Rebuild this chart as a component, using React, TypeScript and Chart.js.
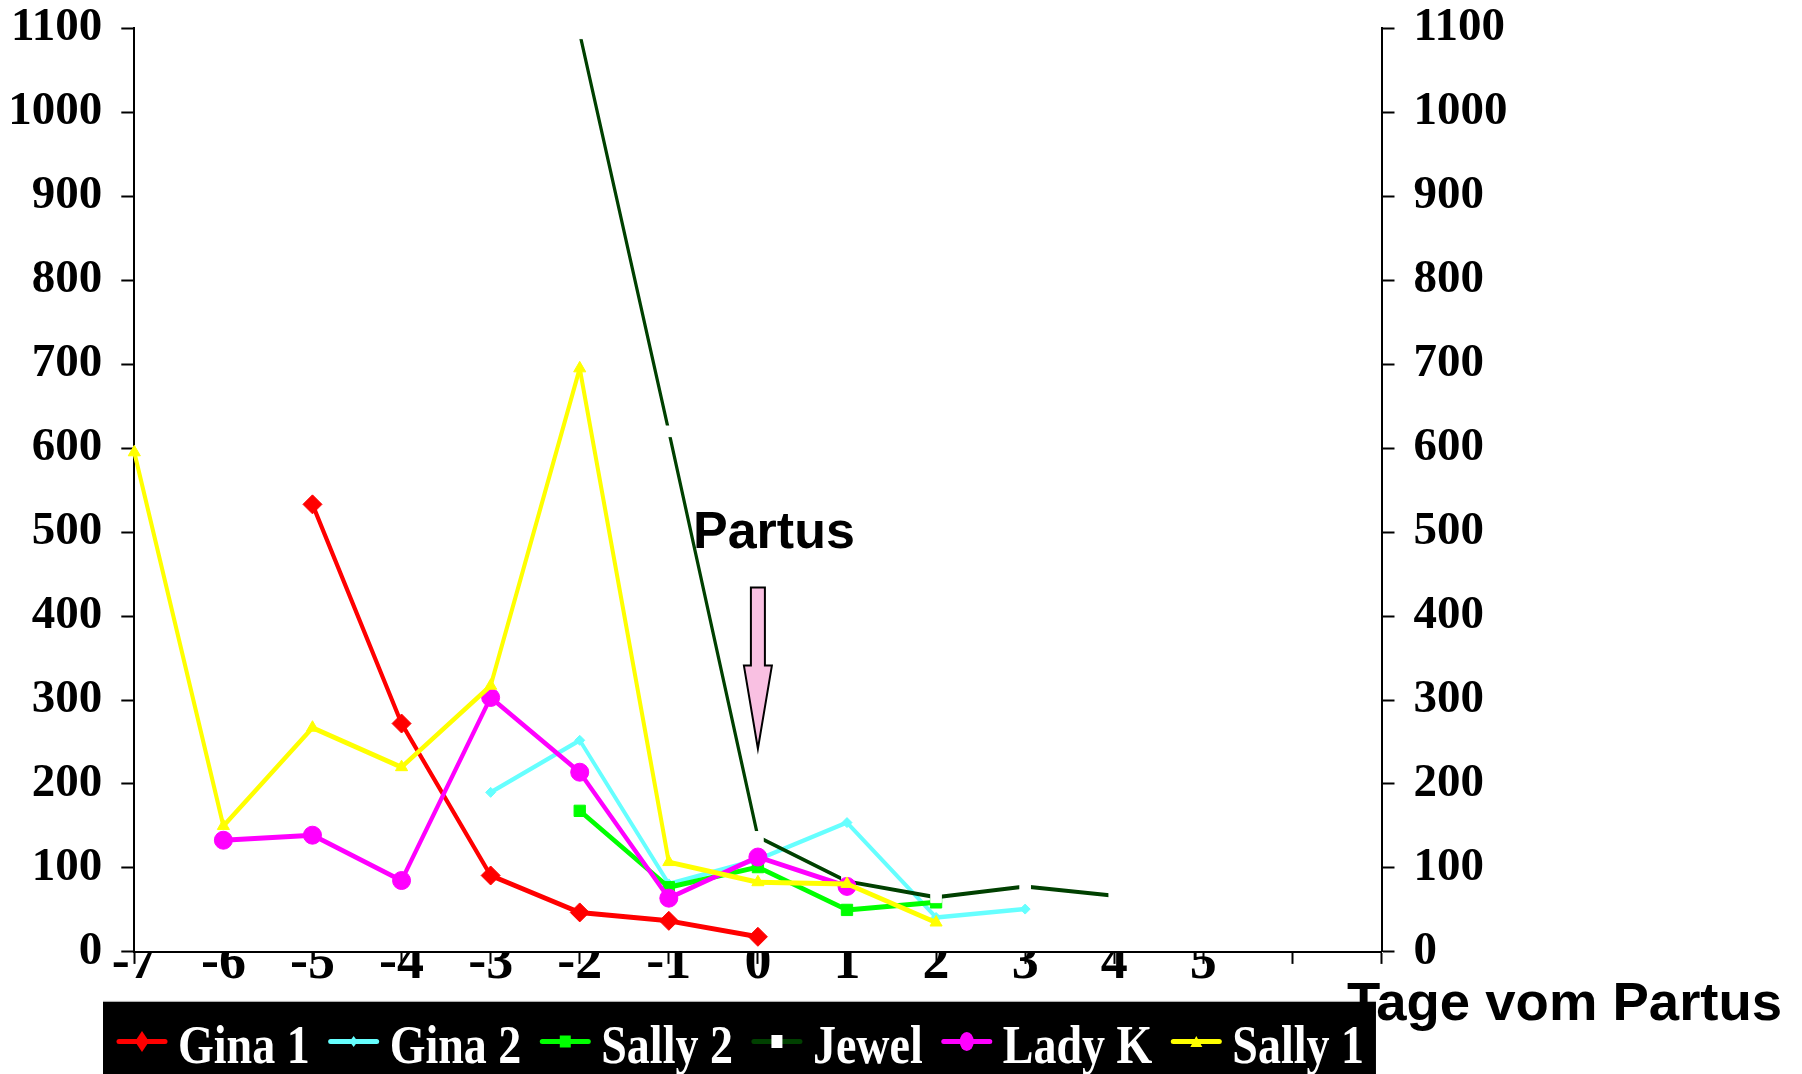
import React, { useEffect, useRef } from "react";
import { Chart, registerables } from "chart.js";

Chart.register(...registerables);

// ---------- data ----------
const categories = ["-7", "-6", "-5", "-4", "-3", "-2", "-1", "0", "1", "2", "3", "4", "5", "6", "7"];
const xTickLabels = ["-7", "-6", "-5", "-4", "-3", "-2", "-1", "0", "1", "2", "3", "4", "5", "", ""];
const yMin = 0;
const yMax = 1100;
const yStep = 100;

const gina1 = [null, null, 533, 272, 91, 47, 37, 18, null, null, null, null, null, null, null];
const gina2 = [null, null, null, null, 190, 252, 81, 110, 154, 41, 51, null, null, null, null];
const sally2 = [null, null, null, null, null, 168, 77, 101, 50, 59, null, null, null, null, null];
const jewel = [null, null, null, null, null, 1094, 620, 137, 84, 65, 78, 67, null, null, null];
const ladyK = [null, 133, 139, 85, 303, 214, 64, 113, 78, null, null, null, null, null, null];
const sally1 = [595, 150, 267, 220, 317, 695, 107, 83, 81, 35, null, null, null, null, null];

const seriesNames = ["Gina 1", "Gina 2", "Sally 2", "Jewel", "Lady K", "Sally 1"];

const annotationText = "Partus";
const axisTitleText = "Tage vom Partus";
const arrowCategory = "0";
const arrowTopValue = 434;
const arrowHeadValue = 341;
const arrowTipValue = 242;
const annotationLabelValue = 481;

// ---------- styles ----------
const SERIF = "'Liberation Serif', 'Times New Roman', serif";
const SANS = "'Liberation Sans', Arial, sans-serif";
const V_STRETCH = 1.25;

type Marker = { shape: string; w: number; h: number; fill: string };

const seriesStyles = [
  { color: "#FF0000", width: 4, point: "rectRot", radius: 9.5, pointColor: "#FF0000", legend: { shape: "diamond", w: 14, h: 21, fill: "#FF0000" } },
  { color: "#66FFFF", width: 3.6, point: "rectRot", radius: 5, pointColor: "#66FFFF", legend: { shape: "diamond", w: 8, h: 11, fill: "#66FFFF" } },
  { color: "#00FF00", width: 4, point: "rect", radius: 8, pointColor: "#00FF00", legend: { shape: "rect", w: 11, h: 12, fill: "#00FF00" } },
  { color: "#004000", width: 3.2, point: "rect", radius: 7.5, pointColor: "#FFFFFF", legend: { shape: "rect", w: 11, h: 13, fill: "#FFFFFF" } },
  { color: "#FF00FF", width: 4, point: "circle", radius: 9, pointColor: "#FF00FF", legend: { shape: "ellipse", w: 14, h: 19, fill: "#FF00FF" } },
  { color: "#FFFF00", width: 4, point: "triangle", radius: 7, pointColor: "#FFFF00", legend: { shape: "triangle", w: 12, h: 11, fill: "#FFFF00" } },
];

const seriesData = [gina1, gina2, sally2, jewel, ladyK, sally1];

function stretchedWidth(base: number, p0: any, p1: any) {
  const dx = p1.x - p0.x;
  const dy = p1.y - p0.y;
  const len = Math.sqrt(dx * dx + dy * dy) || 1;
  const k = Math.sqrt(dx * dx + (dy * dy) / (V_STRETCH * V_STRETCH));
  return (base * V_STRETCH * k) / len;
}

function drawMarker(ctx: CanvasRenderingContext2D, m: Marker, cx: number, cy: number) {
  ctx.save();
  ctx.fillStyle = m.fill;
  ctx.beginPath();
  const hw = m.w / 2;
  const hh = m.h / 2;
  if (m.shape === "diamond") {
    ctx.moveTo(cx, cy - hh);
    ctx.lineTo(cx + hw, cy);
    ctx.lineTo(cx, cy + hh);
    ctx.lineTo(cx - hw, cy);
    ctx.closePath();
  } else if (m.shape === "rect") {
    ctx.rect(cx - hw, cy - hh, m.w, m.h);
  } else if (m.shape === "ellipse") {
    ctx.ellipse(cx, cy, hw, hh, 0, 0, Math.PI * 2);
  } else if (m.shape === "triangle") {
    ctx.moveTo(cx, cy - hh);
    ctx.lineTo(cx + hw, cy + hh);
    ctx.lineTo(cx - hw, cy + hh);
    ctx.closePath();
  }
  ctx.fill();
  ctx.restore();
}

const boxLegendPlugin = {
  id: "boxLegend",
  afterDraw(chart: any) {
    const ctx: CanvasRenderingContext2D = chart.ctx;
    const area = chart.chartArea;
    const startX = area.left - 17.3;
    const boxTop = area.bottom + 50;
    const lineY = area.bottom + 89.6;
    const baseY = area.bottom + 110.6;
    const fontSize = 46;
    ctx.save();
    ctx.font = `bold ${fontSize}px ${SERIF}`;
    let x = startX;
    const items: { lx: number; tx: number; i: number }[] = [];
    seriesNames.forEach((name, i) => {
      const tx = x + 61;
      items.push({ lx: x, tx, i });
      x = tx + ctx.measureText(name).width + 19;
    });
    const boxRight = x - 19 + 12;
    const boxLeft = startX - 14;
    ctx.fillStyle = "#000000";
    ctx.fillRect(boxLeft, boxTop, boxRight - boxLeft, chart.height - boxTop);
    ctx.fillStyle = "#A8A8A8";
    ctx.fillRect(boxLeft, boxTop - 1, boxRight - boxLeft, 1);
    items.forEach(({ lx, tx, i }) => {
      const st = seriesStyles[i];
      ctx.strokeStyle = st.color;
      ctx.lineWidth = 5;
      ctx.lineCap = "round";
      ctx.beginPath();
      ctx.moveTo(lx + 2, lineY);
      ctx.lineTo(lx + 48, lineY);
      ctx.stroke();
      drawMarker(ctx, st.legend, lx + 25, lineY);
      ctx.save();
      ctx.translate(tx, baseY);
      ctx.scale(1, 1.2);
      ctx.fillStyle = "#FFFFFF";
      ctx.textAlign = "left";
      ctx.textBaseline = "alphabetic";
      ctx.fillText(seriesNames[i], 0, 0);
      ctx.restore();
    });
    // axis title
    ctx.fillStyle = "#000000";
    ctx.font = `bold 54.5px ${SANS}`;
    ctx.textAlign = "left";
    ctx.textBaseline = "alphabetic";
    ctx.fillText(axisTitleText, area.right - 34.5, area.bottom + 68);
    ctx.restore();
  },
};

const partusPlugin = {
  id: "partusArrow",
  afterDatasetsDraw(chart: any) {
    const ctx: CanvasRenderingContext2D = chart.ctx;
    const xs = chart.scales.x;
    const ys = chart.scales.y;
    const cx = xs.getPixelForValue(categories.indexOf(arrowCategory));
    const yTop = ys.getPixelForValue(arrowTopValue);
    const yHead = ys.getPixelForValue(arrowHeadValue);
    const yTip = ys.getPixelForValue(arrowTipValue);
    const shaft = 7;
    const head = 14;
    ctx.save();
    ctx.beginPath();
    ctx.moveTo(cx - shaft, yTop);
    ctx.lineTo(cx + shaft, yTop);
    ctx.lineTo(cx + shaft, yHead);
    ctx.lineTo(cx + head, yHead);
    ctx.lineTo(cx, yTip);
    ctx.lineTo(cx - head, yHead);
    ctx.lineTo(cx - shaft, yHead);
    ctx.closePath();
    ctx.fillStyle = "#F9C0E2";
    ctx.fill();
    ctx.lineWidth = 2;
    ctx.strokeStyle = "#000000";
    ctx.lineJoin = "miter";
    ctx.stroke();
    ctx.fillStyle = "#000000";
    ctx.font = `bold 52px ${SANS}`;
    ctx.textAlign = "center";
    ctx.textBaseline = "alphabetic";
    ctx.fillText(annotationText, cx + 16, ys.getPixelForValue(annotationLabelValue));
    ctx.restore();
  },
};

export default function App() {
  const canvasRef = useRef<HTMLCanvasElement | null>(null);

  useEffect(() => {
    const canvas = canvasRef.current;
    if (!canvas) return;
    const n = seriesNames.length;
    const datasets = seriesNames.map((name, i) => {
      const st = seriesStyles[i];
      return {
        label: name,
        data: seriesData[i],
        borderColor: st.color,
        backgroundColor: st.color,
        borderWidth: st.width,
        borderCapStyle: "round",
        borderJoinStyle: "round",
        segment: {
          borderWidth: (c: any) => stretchedWidth(st.width, c.p0, c.p1),
        },
        pointStyle: st.point,
        pointRadius: st.radius,
        pointBackgroundColor: st.pointColor,
        pointBorderColor: st.pointColor,
        pointBorderWidth: 1,
        tension: 0,
        spanGaps: false,
        order: n - i,
        yAxisID: "y",
      };
    });

    const tickFontY = { family: SERIF, size: 47, weight: "bold" as const };
    const tickFontX = { family: SERIF, size: 54, weight: "bold" as const };
    const gridCommon = {
      display: true,
      drawOnChartArea: false,
      drawTicks: true,
      tickLength: 13,
      tickWidth: 2,
      tickColor: "#000000",
    };
    const noPad = (s: any) => {
      s.paddingTop = 0;
      s.paddingBottom = 0;
      s.paddingLeft = 0;
      s.paddingRight = 0;
    };

    const chart = new Chart(canvas, {
      type: "line",
      data: { labels: categories, datasets: datasets as any },
      options: {
        animation: false,
        responsive: false,
        maintainAspectRatio: false,
        layout: { padding: { top: 28.3, left: 0, right: 0, bottom: 0 }, autoPadding: false } as any,
        plugins: {
          legend: { display: false },
          tooltip: { enabled: false },
          title: { display: false },
        },
        scales: {
          x: {
            type: "category",
            offset: false,
            grid: { ...gridCommon, offset: false, tickLength: 12 },
            border: { display: true, color: "#000000", width: 2 },
            ticks: {
              autoSkip: false,
              maxRotation: 0,
              minRotation: 0,
              padding: -32,
              color: "#000000",
              font: tickFontX,
              callback: (_v: any, idx: number) => xTickLabels[idx],
            },
            afterFit: (s: any) => {
              noPad(s);
              s.height = 122.1;
            },
          },
          y: {
            type: "linear",
            position: "left",
            min: yMin,
            max: yMax,
            grid: gridCommon,
            border: { display: true, color: "#000000", width: 2 },
            ticks: { stepSize: yStep, padding: 19, color: "#000000", font: tickFontY, callback: (v: any) => String(v) },
            afterFit: (s: any) => {
              noPad(s);
              s.width = 134.3;
            },
          },
          y2: {
            type: "linear",
            position: "right",
            min: yMin,
            max: yMax,
            grid: gridCommon,
            border: { display: true, color: "#000000", width: 2 },
            ticks: { stepSize: yStep, padding: 19, color: "#000000", font: tickFontY, callback: (v: any) => String(v) },
            afterFit: (s: any) => {
              noPad(s);
              s.width = 420.5;
            },
          },
        },
      } as any,
      plugins: [partusPlugin, boxLegendPlugin],
    });
    return () => chart.destroy();
  }, []);

  return (
    <div style={{ position: "fixed", left: 0, top: 0, width: 1802, height: 1074, background: "#ffffff" }}>
      <canvas ref={canvasRef} width={1802} height={1074} style={{ display: "block" }} />
    </div>
  );
}
